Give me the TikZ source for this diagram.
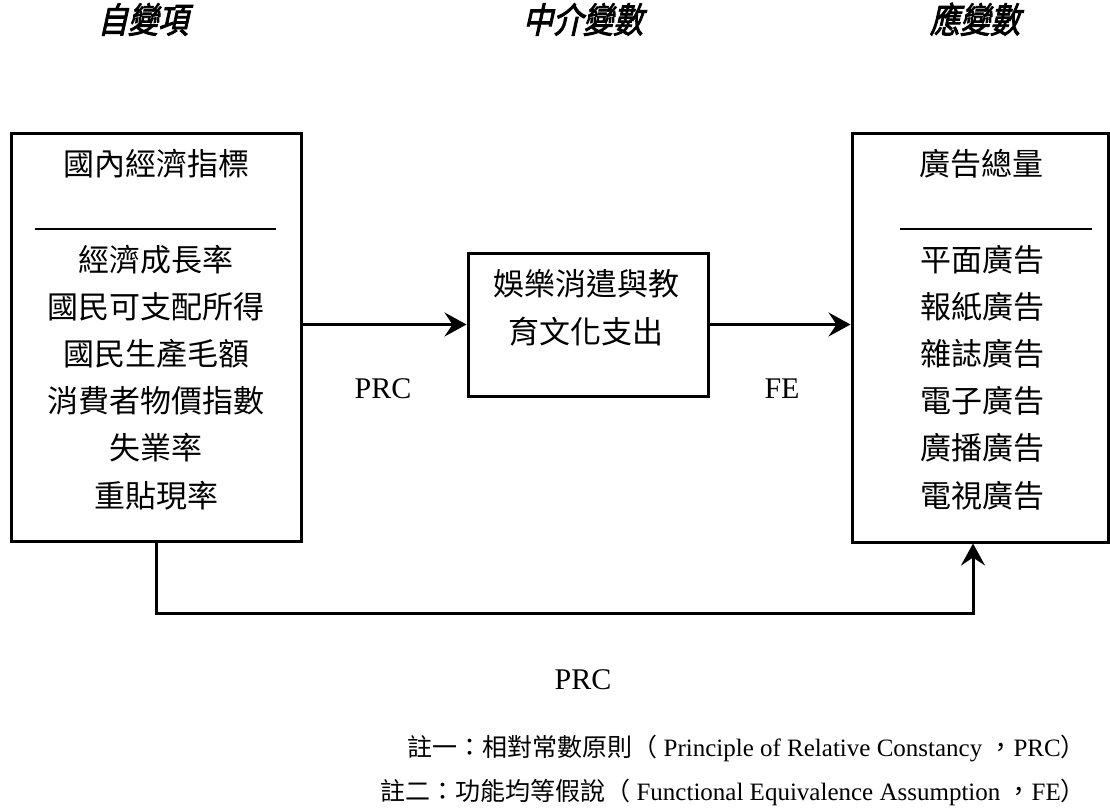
\documentclass[tikz,border=0pt]{standalone}
\usepackage{fontspec}
\setmainfont{Liberation Serif}
\newfontfamily\cjk{Noto Sans CJK TC}
\newfontfamily\cjktitle{Noto Sans CJK TC}[FakeSlant=0.22,FakeBold=2.5,FakeStretch=0.86]
\usetikzlibrary{arrows.meta}
\begin{document}
\begin{tikzpicture}[x=1pt,y=-1pt,
  box/.style={draw,line width=3pt,inner sep=0pt},
  cj/.style={font=\cjk\fontsize{31}{47}\selectfont,inner sep=0pt,text height=0.88em,text depth=0.12em},
  ttl/.style={font=\cjktitle\fontsize{35}{35}\selectfont,inner sep=0pt,text height=0.88em,text depth=0.12em},
  lab/.style={font=\fontsize{30}{30}\selectfont,inner sep=0pt},
  note/.style={font=\fontsize{25}{25}\selectfont,inner sep=0pt,anchor=east},
  sep/.style={line width=1.3pt},
  arr/.style={line width=3pt,-{Stealth[length=22pt,width=24pt,inset=8pt]}}]
\useasboundingbox[fill=white] (0,0) rectangle (1110,811);
% titles
\node[ttl] (t1) at (143,29) {自變項};
\node[ttl] (t2) at (583,29) {中介變數};
\node[ttl] (t3) at (975,29) {應變數};
% boxes
\node[box,minimum width=290pt,minimum height=408pt] (L) at (156,337) {};
\node[box,minimum width=240pt,minimum height=143pt] (M) at (588,324.5) {};
\node[box,minimum width=256pt,minimum height=409pt] (R) at (980,337.5) {};
% left box text
\node[cj] (Lt) at (156,172) {國內經濟指標};
\draw[sep] (35,229) -- (276,229);
\foreach \t [count=\i] in {經濟成長率,國民可支配所得,國民生產毛額,消費者物價指數,失業率,重貼現率}
  \node[cj] (L\i) at (156,220+47.2*\i) {\t};
% middle box text
\node[cj] (M1) at (586,292) {娛樂消遣與教};
\node[cj] (M2) at (586,340) {育文化支出};
% right box text
\node[cj] (Rt) at (981,172) {廣告總量};
\draw[sep] (900,229) -- (1092,229);
\foreach \t [count=\i] in {平面廣告,報紙廣告,雜誌廣告,電子廣告,廣播廣告,電視廣告}
  \node[cj] (R\i) at (982,220+47.2*\i) {\t};
% connectors
\draw[arr] (L.east |- M.west) -- (M.west);
\draw[arr] (M.east) -- (M.east -| R.west);
\coordinate (b1) at (156,613);
\coordinate (b2) at (973,613);
\draw[arr,line join=miter] (L.south -| b1) -- (b1) -- (b2) -- (R.south -| b2);
% labels
\node[lab] (p1) at (383,389) {PRC};
\node[lab] (f1) at (782,389) {FE};
\node[lab] (p2) at (583,680) {PRC};
% notes
\node[note] (n1) at (1086,748) {{\cjk 註一：相對常數原則（} Principle of Relative Constancy {\cjk ，}PRC{\cjk ）}};
\node[note] (n2) at (1086,792) {{\cjk 註二：功能均等假說（} Functional Equivalence Assumption {\cjk ，}FE{\cjk ）}};
\end{tikzpicture}
\end{document}
